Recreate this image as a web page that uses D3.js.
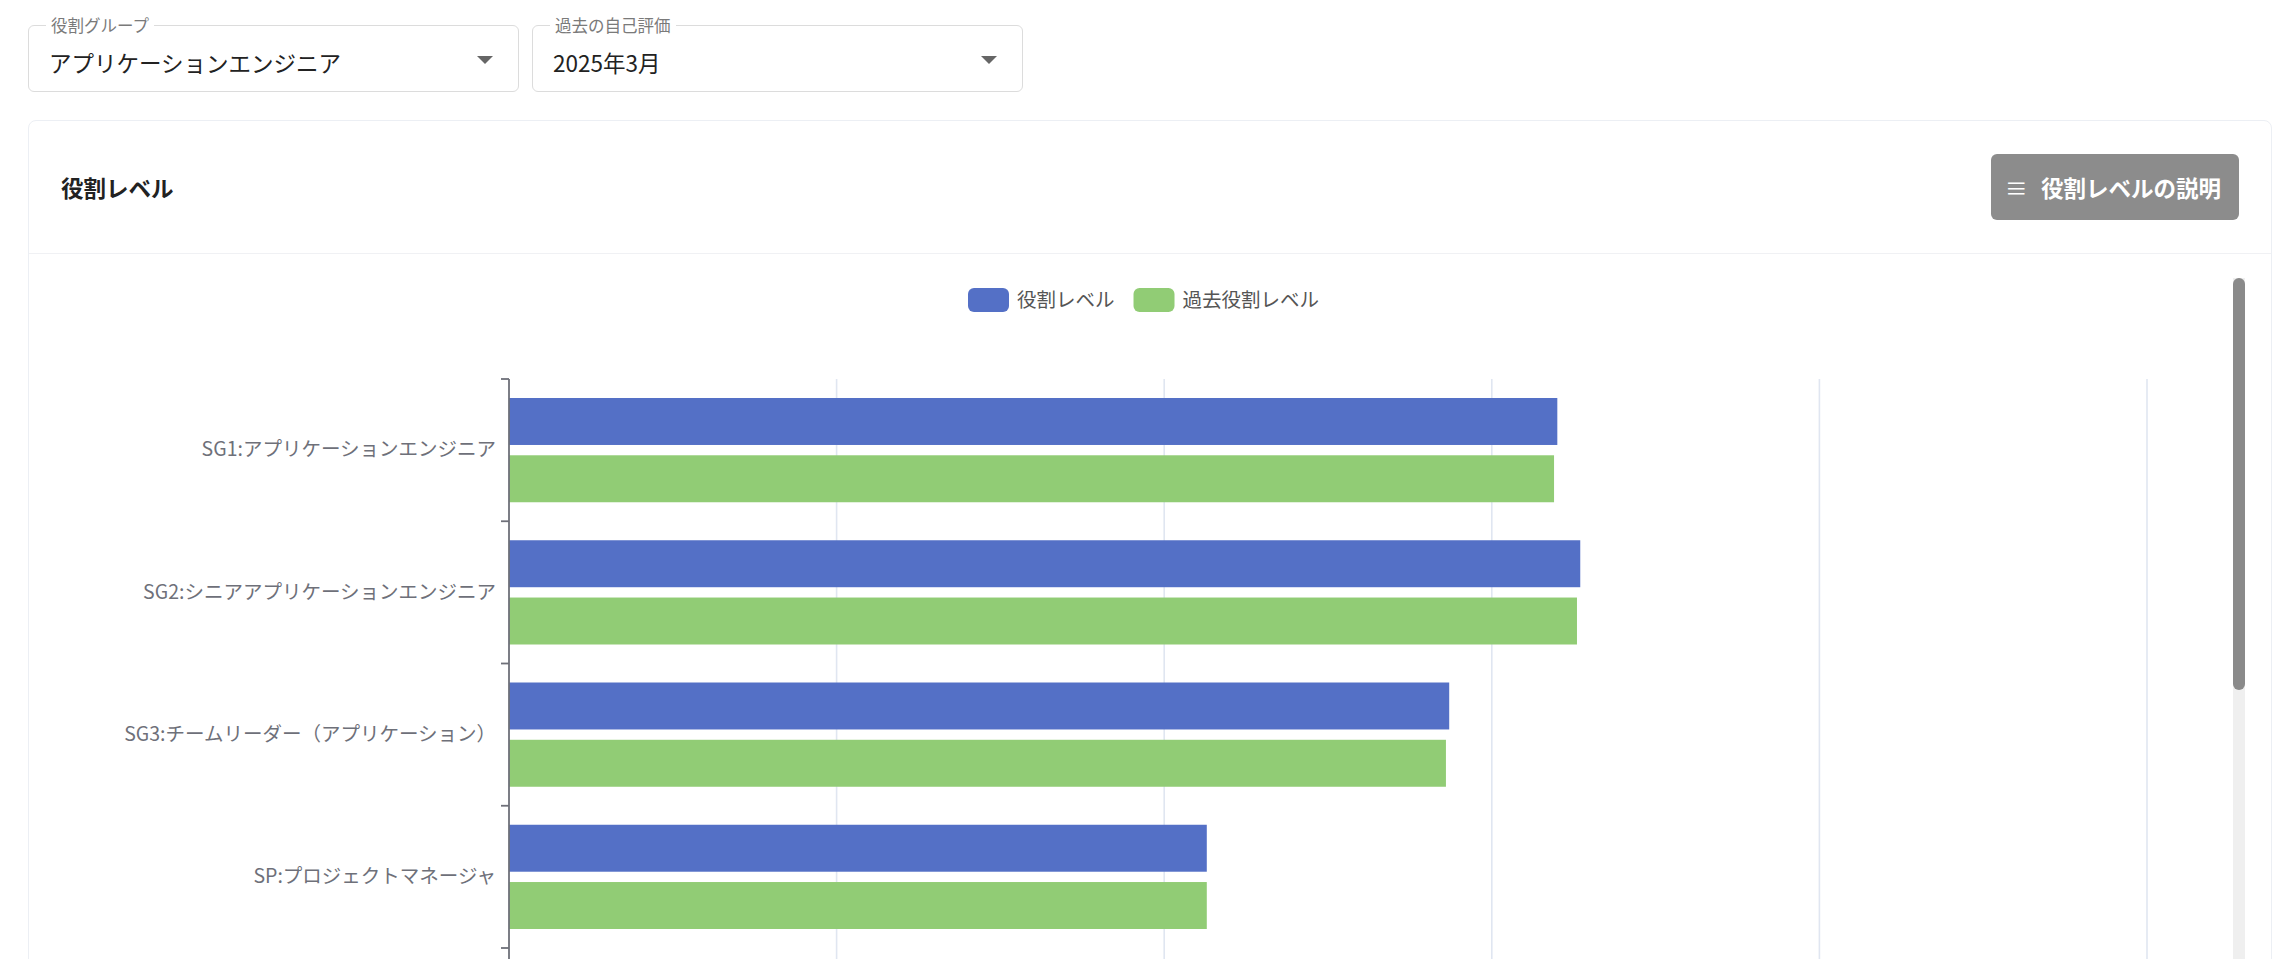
<!DOCTYPE html>
<html lang="ja">
<head>
<meta charset="utf-8">
<script src="https://cdn.jsdelivr.net/npm/d3@7"></script>
<style>
  body { margin: 0; width: 2291px; height: 959px; overflow: hidden; background: #fff;
         font-family: "Noto Sans CJK JP", "Noto Sans", sans-serif; position: relative; }
  .select { position: absolute; top: 25px; height: 67px; width: 491px; box-sizing: border-box;
            border: 1.5px solid #dcdcdc; border-radius: 6px; }
  .select .lbl { position: absolute; top: -13px; left: 17px; padding: 0 5px; background: #fff;
                 font-size: 16.5px; color: #7a7a7a; line-height: 24px; }
  .select .val { position: absolute; left: 20px; top: 0; line-height: 72px; font-size: 22.5px; color: #222; }
  .select .arrow { position: absolute; right: 25px; top: 30px; width: 0; height: 0;
                   border-left: 8px solid transparent; border-right: 8px solid transparent; border-top: 8px solid #666; }
  #card { position: absolute; left: 28px; top: 120px; width: 2244px; height: 900px; box-sizing: border-box;
          border: 1.5px solid #eceff4; border-radius: 8px; }
  #card .head { position: absolute; left: 0; top: 0; right: 0; height: 132px; border-bottom: 1.5px solid #f0f1f4; }
  #card .title { position: absolute; left: 32px; top: 0; line-height: 132px; font-size: 22.5px; font-weight: 700; color: #222; }
  #btn { position: absolute; left: 1962px; top: 33px; width: 248px; height: 66px; background: #8c8c8c;
         border-radius: 6px; color: #fff; font-weight: 700; font-size: 22.5px; line-height: 66px; }
  #btn .ic { position: absolute; left: 14px; font-weight: 400; }
  #btn .tx { position: absolute; left: 50px; }
  #track { position: absolute; left: 2233px; top: 278px; width: 12px; height: 700px; background: #efefef; }
  #thumb { position: absolute; left: 2233px; top: 278px; width: 12px; height: 412px; background: #8a8a8a; border-radius: 6px; }
  #chart { position: absolute; left: 0; top: 0; }
</style>
</head>
<body>
<div class="select" style="left:28px"><span class="lbl">役割グループ</span><span class="val">アプリケーションエンジニア</span><span class="arrow"></span></div>
<div class="select" style="left:532px"><span class="lbl">過去の自己評価</span><span class="val">2025年3月</span><span class="arrow"></span></div>
<div id="card">
  <div class="head"><span class="title">役割レベル</span>
    <div id="btn"><span class="ic">&#8801;</span><span class="tx">役割レベルの説明</span></div>
  </div>
</div>
<div id="track"></div>
<div id="thumb"></div>
<svg id="chart" width="2291" height="959"></svg>
<script>
// categories and series
var categories = [
  "SG1:アプリケーションエンジニア",
  "SG2:シニアアプリケーションエンジニア",
  "SG3:チームリーダー（アプリケーション）",
  "SP:プロジェクトマネージャ"
];
var seriesNames = ["役割レベル", "過去役割レベル"];
var currentLevel = [3.2, 3.27, 2.87, 2.13];
var pastLevel = [3.19, 3.26, 2.86, 2.13];
var colors = ["#5470c6", "#91cc75"];
var xTicks = [0, 1, 2, 3, 4, 5];

var plotLeft = 509, plotRight = 2147, plotTop = 379, bandBottom = 948, plotBottom = 1010;
var fontFamily = '"Noto Sans CJK JP", "Noto Sans", sans-serif';

var svg = d3.select("#chart");

var x = d3.scaleLinear().domain([0, 5]).range([plotLeft, plotRight]);
var y = d3.scaleBand().domain(categories).range([plotTop, bandBottom]).padding(0);
var inner = 19;
var ySub = d3.scaleBand().domain(seriesNames)
    .range([inner, y.step() - inner]).paddingInner(0.18);

var rows = categories.map(function (c, i) {
  return { cat: c, values: [currentLevel[i], pastLevel[i]] };
});

// grid lines (x axis itself sits below the scrolled view)
svg.append("g").selectAll("line")
  .data(xTicks.filter(function (t) { return t > 0; }))
  .join("line")
  .attr("x1", function (d) { return x(d); })
  .attr("x2", function (d) { return x(d); })
  .attr("y1", plotTop)
  .attr("y2", plotBottom)
  .attr("stroke", "#e0e6f1")
  .attr("stroke-width", 1.6);

// bars
var groups = svg.append("g").selectAll("g")
  .data(rows)
  .join("g")
  .attr("transform", function (d) { return "translate(0," + y(d.cat) + ")"; });

groups.selectAll("rect")
  .data(function (d) { return d.values.map(function (v, i) { return { key: seriesNames[i], value: v, i: i }; }); })
  .join("rect")
  .attr("x", x(0))
  .attr("y", function (d) { return ySub(d.key); })
  .attr("width", function (d) { return x(d.value) - x(0); })
  .attr("height", ySub.bandwidth())
  .attr("fill", function (d) { return colors[d.i]; });

// y axis: labels
var yAxis = svg.append("g")
  .attr("transform", "translate(" + plotLeft + ",0)")
  .call(d3.axisLeft(y).tickSize(0).tickPadding(13));
yAxis.select(".domain").remove();
yAxis.selectAll("text")
  .attr("fill", "#6e7079")
  .style("font-size", "19.5px")
  .style("font-family", fontFamily);

// y axis line and boundary ticks
svg.append("line")
  .attr("x1", plotLeft).attr("x2", plotLeft)
  .attr("y1", plotTop).attr("y2", plotBottom)
  .attr("stroke", "#6e7079").attr("stroke-width", 1.8);
svg.append("g").selectAll("line")
  .data(d3.range(categories.length + 1))
  .join("line")
  .attr("x1", plotLeft - 8).attr("x2", plotLeft)
  .attr("y1", function (i) { return plotTop + i * y.step(); })
  .attr("y2", function (i) { return plotTop + i * y.step(); })
  .attr("stroke", "#6e7079").attr("stroke-width", 1.8);

// legend
var legend = svg.append("g").attr("transform", "translate(968,288)");
var lx = 0;
seriesNames.forEach(function (name, i) {
  legend.append("rect")
    .attr("x", lx).attr("y", 0)
    .attr("width", 41).attr("height", 24)
    .attr("rx", 6)
    .attr("fill", colors[i]);
  var t = legend.append("text")
    .attr("x", lx + 49).attr("y", 12)
    .attr("dy", "0.35em")
    .attr("fill", "#555")
    .style("font-size", "19.5px")
    .style("font-family", fontFamily)
    .text(name);
  lx += 49 + t.node().getComputedTextLength() + 19;
});
</script>
</body>
</html>
